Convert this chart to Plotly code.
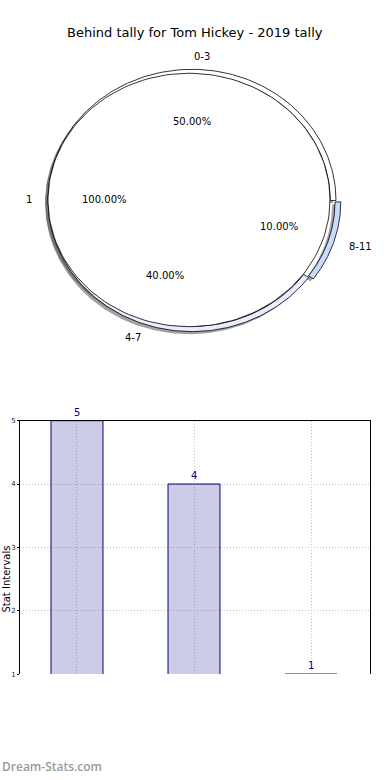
import numpy as np
import plotly.graph_objects as go

# ---------------- data ----------------
title_text = "Behind tally for Tom Hickey - 2019 tally"
outer_labels = ["0-3", "4-7", "8-11"]
outer_values = [5, 4, 1]
outer_colors = ["#ffffff", "#e8eeff", "#c8dbfc"]
outer_explode = [0.0, 0.0, 0.035]
inner_labels = ["1"]
inner_values = [1]
inner_colors = ["#ffffff"]
bar_categories = ["0-3", "4-7", "8-11"]
bar_values = [5, 4, 1]
y_ticks = [1, 2, 3, 4, 5]
y_title = "Stat Intervals"
watermark = "Dream-Stats.com"

# ---------------- layout geometry (pixels) ----------------
W, H = 390, 780
PIE_H = 390
# each pie drawn in its own (elliptical) frame: centre and radii in px
inner_frame = dict(cx=189.0, cy=198.0, a=141.0, b=128.0, r0=0.0, r1=1.0)
outer_frame = dict(cx=192.0, cy=198.5, a=144.0, b=132.5, r0=0.96, r1=1.0)
SHADOW = (-0.02, -0.02)
SHADOW_COLOR = "rgba(70,70,70,0.5)"

fig = go.Figure()


def wedge_xy(fr, t1, t2, dx=0.0, dy=0.0, n=160):
    th = np.radians(np.linspace(t1, t2, n))
    xs = list(fr["r1"] * np.cos(th))
    ys = list(fr["r1"] * np.sin(th))
    full = (t2 - t1) >= 359.999
    if fr["r0"] > 0:
        xs += list(fr["r0"] * np.cos(th[::-1]))
        ys += list(fr["r0"] * np.sin(th[::-1]))
    elif not full:
        xs.append(0.0)
        ys.append(0.0)
    xs.append(xs[0])
    ys.append(ys[0])
    xs = np.array(xs) + dx
    ys = np.array(ys) + dy
    return fr["cx"] + fr["a"] * xs, fr["cy"] - fr["b"] * ys


def pie_wedges(values, explode):
    total = float(sum(values))
    out = []
    start = 0.0
    for v, e in zip(values, explode):
        span = 360.0 * v / total
        mid = np.radians(start + span / 2)
        out.append((start, start + span, e * np.cos(mid), e * np.sin(mid), mid, v / total))
        start += span
    return out


outer_w = pie_wedges(outer_values, outer_explode)
inner_w = pie_wedges(inner_values, [0.0] * len(inner_values))

# shadows first (below all wedges)
for fr, wedges in ((outer_frame, outer_w), (inner_frame, inner_w)):
    for (t1, t2, dx, dy, mid, frac) in wedges:
        x, y = wedge_xy(fr, t1, t2, dx + SHADOW[0], dy + SHADOW[1])
        fig.add_trace(go.Scatter(x=x, y=y, xaxis="x2", yaxis="y2", mode="lines",
                                 fill="toself", fillcolor=SHADOW_COLOR,
                                 line=dict(width=0), hoverinfo="skip", showlegend=False))

# ring wedges, then inner pie on top
for fr, wedges, cols, labs in ((outer_frame, outer_w, outer_colors, outer_labels),
                               (inner_frame, inner_w, inner_colors, inner_labels)):
    for (t1, t2, dx, dy, mid, frac), col, lab in zip(wedges, cols, labs):
        x, y = wedge_xy(fr, t1, t2, dx, dy)
        fig.add_trace(go.Scatter(x=x, y=y, xaxis="x2", yaxis="y2", mode="lines",
                                 fill="toself", fillcolor=col, name=lab,
                                 line=dict(color="black", width=0.8), showlegend=False))

annotations = []
TXT = dict(family="DejaVu Sans", size=10, color="black")


def add_pie_texts(fr, wedges, labels):
    for (t1, t2, dx, dy, mid, frac), lab in zip(wedges, labels):
        for dist, txt, anchor in ((1.1, lab, "left" if np.cos(mid) > 0 else "right"),
                                  (0.6, f"{frac * 100:.2f}%", "center")):
            ux = dist * fr["r1"] * np.cos(mid) + dx
            uy = dist * fr["r1"] * np.sin(mid) + dy
            annotations.append(dict(x=fr["cx"] + fr["a"] * ux, y=fr["cy"] - fr["b"] * uy,
                                    xref="x2", yref="y2", text=txt, showarrow=False,
                                    font=TXT, xanchor=anchor, yanchor="middle"))


add_pie_texts(inner_frame, inner_w, inner_labels)
add_pie_texts(outer_frame, outer_w, outer_labels)

# ---------------- bar chart ----------------
fig.add_trace(go.Bar(x=bar_categories, y=bar_values, width=0.444,
                     marker=dict(color="rgba(0,0,128,0.2)",
                                 line=dict(color="#000080", width=1)),
                     showlegend=False, hoverinfo="x+y"))
for c, v in zip(bar_categories, bar_values):
    annotations.append(dict(x=c, y=v, xref="x", yref="y", text=str(v), showarrow=False,
                            font=dict(family="DejaVu Sans", size=10, color="#000080"),
                            xanchor="center", yanchor="bottom", yshift=1))

annotations.append(dict(x=0.5, y=1 - 29 / H, xref="paper", yref="paper",
                        text=title_text, showarrow=False,
                        font=dict(family="DejaVu Sans", size=13, color="black"),
                        xanchor="center", yanchor="middle"))
annotations.append(dict(x=0, y=1 - 581 / H, xref="paper", yref="paper",
                        text=y_title, showarrow=False, textangle=-90,
                        font=dict(family="DejaVu Sans", size=10, color="black"),
                        xanchor="left", yanchor="middle", borderpad=0))
annotations.append(dict(x=0, y=1 - 770 / H, xref="paper", yref="paper",
                        text=watermark, showarrow=False,
                        font=dict(family="Open Sans", size=12, color="#9a9a9a", weight=600),
                        xanchor="left", yanchor="middle"))

GRID = dict(showgrid=True, gridcolor="#c4c4c4", griddash="1px,2px", gridwidth=1)

fig.update_layout(
    width=W, height=H,
    margin=dict(l=0, r=0, t=0, b=0),
    paper_bgcolor="white", plot_bgcolor="white",
    showlegend=False,
    annotations=annotations,
    xaxis=dict(domain=[20 / W, 370 / W], range=[-0.487, 2.504], side="top",
               showticklabels=False, ticks="", showline=True, linecolor="black",
               linewidth=1, mirror=False, zeroline=False, fixedrange=True, **GRID),
    yaxis=dict(domain=[1 - 677 / H, 1 - 421 / H], range=[1, 5], tickvals=y_ticks,
               ticks="outside", ticklen=2, tickcolor="black",
               tickfont=dict(family="DejaVu Sans", size=7, color="#222222"),
               showline=True, linecolor="black", linewidth=1, mirror=True,
               zeroline=False, fixedrange=True, **GRID),
    xaxis2=dict(domain=[0, 1], range=[0, W], visible=False, anchor="y2", fixedrange=True),
    yaxis2=dict(domain=[1 - PIE_H / H, 1.0], range=[PIE_H, 0], visible=False,
                anchor="x2", fixedrange=True),
)

fig.write_html("out.html", config={"displayModeBar": False},
               post_script="document.body.style.margin='0px';document.body.style.overflow='hidden';")
